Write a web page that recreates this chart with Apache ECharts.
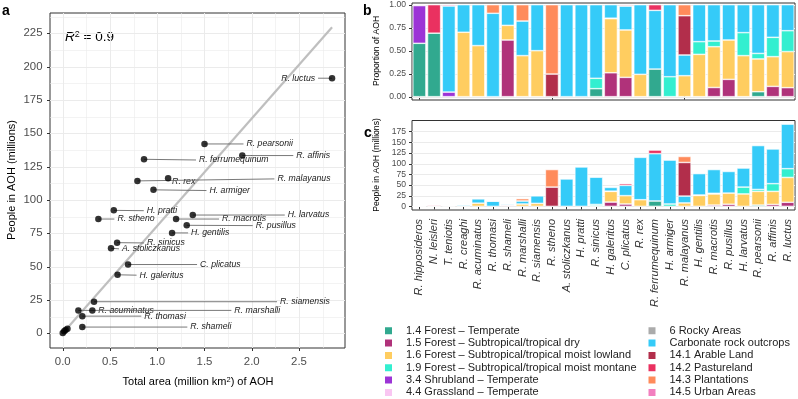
<!DOCTYPE html>
<html><head><meta charset="utf-8">
<script src="https://cdn.jsdelivr.net/npm/echarts@6/dist/echarts.min.js"></script>
<style>html,body{margin:0;padding:0;background:#fff}#c{width:798px;height:399px}</style>
</head><body><div id="c"></div>
<script>
// ---------- data ----------
const species = ['R. hipposideros','N. leisleri','T. teniotis','R. creaghi','R. acuminatus','R. thomasi','R. shameli','R. marshalli','R. siamensis','R. stheno','A. stoliczkanus','H. pratti','R. sinicus','H. galeritus','C. plicatus','R. rex','R. ferrumequinum','H. armiger','R. malayanus','H. gentilis','R. macrotis','R. pusillus','H. larvatus','R. pearsonii','R. affinis','R. luctus'];
// panel a: total AOH area (million km2) and people in AOH (millions)
const areaMkm2 = [0.0, 0.03, 0.015, 0.05, 0.313, 0.207, 0.207, 0.165, 0.331, 0.377, 0.511, 0.54, 0.575, 0.58, 0.691, 1.115, 0.86, 0.96, 0.79, 1.157, 1.199, 1.312, 1.376, 1.50, 1.90, 2.85];
const peopleM = [0.3, 2.5, 1.5, 3.5, 17.2, 12.9, 4.7, 17.2, 23.7, 85.7, 63.8, 92.2, 68, 43.9, 51.6, 116.3, 130.5, 107.6, 114.3, 75.3, 85.7, 81, 88.7, 142, 133.3, 191.3];
const fitLineX = [0, 2.85];
const fitLineY = [0, 229.5];
const rSquaredText = '0.9';
const aXTicks = [0, 0.5, 1, 1.5, 2, 2.5];
const aXMinor = [0.25, 0.75, 1.25, 1.75, 2.25, 2.75];
const aYTicks = [0, 25, 50, 75, 100, 125, 150, 175, 200, 225];
const aYMinor = [12.5, 37.5, 62.5, 87.5, 112.5, 137.5, 162.5, 187.5, 212.5, 237.5];
const bYTicks = [0, 0.25, 0.5, 0.75, 1];
const cYTicks = [0, 25, 50, 75, 100, 125, 150, 175];

const habitats = ['1.4 Forest – Temperate','1.5 Forest – Subtropical/tropical dry','1.6 Forest – Subtropical/tropical moist lowland','1.9 Forest – Subtropical/tropical moist montane','3.4 Shrubland – Temperate','4.4 Grassland – Temperate','6 Rocky Areas','Carbonate rock outcrops','14.1 Arable Land','14.2 Pastureland','14.3 Plantations','14.5 Urban Areas'];
const habitatColors = ['#31A98F','#B0327A','#FFCD60','#33EFD0','#9C34D6','#F9C6F2','#ABABAB','#35CBF8','#B22E4B','#EA3160','#FF8B5B','#F27FBF'];

// panel b: proportion of AOH by habitat
const propF14 = [0.58,0.69,0,0,0,0,0,0,0,0,0,0,0.087,0,0,0,0.30,0,0,0,0,0,0,0.054,0,0];
const propF15 = [0,0,0,0,0,0,0.616,0,0,0,0,0,0,0.26,0.21,0,0,0,0,0,0.10,0.188,0,0,0.112,0.098];
const propF16 = [0,0,0,0.70,0.555,0,0.159,0.446,0.50,0,0,0,0,0.588,0.515,0.243,0,0,0.228,0.46,0.443,0.428,0.446,0.356,0.323,0.392];
const propF19 = [0,0,0,0,0,0,0,0,0,0,0,0,0.113,0.005,0,0,0,0.217,0,0.138,0.062,0,0.25,0.06,0.21,0.227];
const propS34 = [0.41,0,0.05,0,0,0,0,0,0,0,0,0,0,0,0,0,0,0,0,0,0,0,0,0,0,0];
const propG44 = [0.01,0,0,0,0,0,0,0,0,0,0,0,0,0,0,0,0,0,0,0,0,0,0,0,0,0];
const propR6 = [0,0,0,0,0,0,0,0,0,0,0,0,0,0,0,0,0,0,0,0,0,0,0,0,0,0];
const propCarb = [0,0,0.935,0.30,0.445,0.906,0.225,0.376,0.50,0,1.0,1.0,0.80,0.147,0.26,0.757,0.638,0.783,0.225,0.402,0.395,0.384,0.304,0.53,0.355,0.283];
const propA141 = [0,0,0,0,0,0,0,0,0,0.246,0,0,0,0,0.005,0,0,0,0.427,0,0,0,0,0,0,0];
const propP142 = [0,0.31,0,0,0,0,0,0,0,0,0,0,0,0,0.01,0,0.062,0,0,0,0,0,0,0,0,0];
const propP143 = [0,0,0,0,0,0.094,0,0.178,0,0.754,0,0,0,0,0,0,0,0,0.12,0,0,0,0,0,0,0];
const propU145 = [0,0,0.015,0,0,0,0,0,0,0,0,0,0,0,0,0,0,0,0,0,0,0,0,0,0,0];

// panel c: people in AOH (millions) by habitat
const pplF14 = [0.2,0.5,0,0,0,0,0,0,0,0,0,0,1.5,0,0,0,12.5,0,0,0,0,0,0,3,0,0];
const pplF15 = [0,0,0,0,0,0,2.5,0,0,0,0,0,0,10,5.5,0,0,0,0,0,3,5,0,0,4.5,9.5];
const pplF16 = [0,0,0,1,7.5,0,0.3,5.5,7,0,0,0,0,25,19.5,15.5,0,0,8,25.5,26,26,29,32,30.5,58];
const pplF19 = [0,0,0,0,0,0,0,0,0,0,0,0,3,0.5,0,0,0,5.5,0,1,1.5,0,16,4.5,18,20.5];
const pplS34 = [0.3,0,0,0,0,0,0,0,0,0,0,0,0,0,0,0,0,0,0,0,0,0,0,0,0,0];
const pplG44 = [0,0,0,0,0,0,0,0,0,0,0,0,0,0,0,0,0,0,0,0,0,0,0,0,0,0];
const pplR6 = [0,0,0,0,0,0,0,0,0,0,0,0,0,0,0,0,0,0,0,0,0,0,0,0,0,0];
const pplCarb = [0,0,1,2.5,10,12,2.2,7,17.5,0,64,92,63.5,8.8,24,99,110.5,102.5,16,50,55.5,50.5,44.5,102.5,81,104];
const pplA141 = [0,0,0,0,0,0,0,0,0,45,0,0,0,0,0,0,0,0,78.5,0,0,0,0,0,0,0];
const pplP142 = [0,2,0,0,0,0,0,0,0,0,0,0,0,0,4,0,8.5,0,0,0,0,0,0,0,0,0];
const pplP143 = [0,0,0,0,0,1,0,5.5,0,41,0,0,0,0,0,0,0,0,14,0,0,0,0,0,0,0];
const pplU145 = [0,0,0.5,0,0,0,0,0,0,0,0,0,0,0,0,0,0,0,0,0,0,0,0,0,0,0];

const propSeries = [propF14,propF15,propF16,propF19,propS34,propG44,propR6,propCarb,propA141,propP142,propP143,propU145];
const pplSeries = [pplF14,pplF15,pplF16,pplF19,pplS34,pplG44,pplR6,pplCarb,pplA141,pplP142,pplP143,pplU145];

// ---------- layout (label offsets in px, not data) ----------
const labelDx = [null,null,null,null,6,62,108,156,186,19,11,33,30,22,72,4,55,56,140,19,46,69,95,42,54,-17];
const labelDy = [0,0,0,0,0,0,0,0,0,0,0.6,0.3,0.3,0.4,0,3.4,0.7,0.7,-2,0,0,0.3,0,0,0,0];

const FF = "'Liberation Sans', Arial, Helvetica, sans-serif";
const GRIDC = '#ebebeb';

function ln(x1,y1,x2,y2,c,w){return {type:'line',shape:{x1,y1,x2,y2},style:{stroke:c,lineWidth:w}};}
function tx(x,y,t,align,va,fs,fill){return {type:'text',x,y,style:{text:t,align,verticalAlign:va,fontSize:fs,fontFamily:FF,fill:fill||'#4d4d4d'}};}

function tickSeries(gi, dir, majors, minors, fmt, o){
  const raw = majors.map(v=>[v,1]).concat(minors.map(v=>[v,0]));
  return {
    type:'custom', xAxisIndex:gi, yAxisIndex:gi, z:1, silent:true, clip:false,
    data: raw.map(d => dir==='x' ? [d[0], o.other, d[1]] : [o.other, d[0], d[1]]),
    renderItem: function(params, api){
      const cs = params.coordSys;
      const major = api.value(2) === 1;
      const p = api.coord([api.value(0), api.value(1)]);
      const ch = [];
      if (dir === 'x'){
        const x = Math.round(p[0]) + 0.5, b = cs.y + cs.height;
        if (o.grid) ch.push(ln(x, cs.y, x, b, GRIDC, major?1:0.6));
        if (major){
          ch.push(ln(x, b, x, b+3, '#333', 1));
          ch.push(tx(p[0], b+o.gap, fmt(api.value(0)), 'center', 'middle', o.fs));
        }
      } else {
        const y = Math.round(p[1]) + 0.5, l = cs.x;
        if (o.grid) ch.push(ln(l, y, l+cs.width, y, GRIDC, major?1:0.6));
        if (major){
          ch.push(ln(l-3, y, l, y, '#333', 1));
          ch.push(tx(l-o.gap, p[1], fmt(api.value(1)), 'right', 'middle', o.fs));
        }
      }
      return {type:'group', children:ch};
    }
  };
}

const series = [];
series.push(tickSeries(0,'x',aXTicks,aXMinor,v=>v.toFixed(1),{other:0,grid:true,gap:14,fs:11.4}));
series.push(tickSeries(0,'y',aYTicks,aYMinor,v=>String(v),{other:0,grid:true,gap:7.5,fs:11.4}));
series.push({type:'line', xAxisIndex:0, yAxisIndex:0, z:2, silent:true, symbol:'none',
  data: fitLineX.map((x,i)=>[x, fitLineY[i]]), lineStyle:{color:'#bfbfbf', width:2.2}});
series.push({type:'custom', xAxisIndex:0, yAxisIndex:0, z:3, silent:true, clip:false,
  data: species.map((s,i)=>[areaMkm2[i], peopleM[i], i]),
  renderItem: function(params, api){
    const i = api.value(2);
    const dx = labelDx[i];
    if (dx == null) return {type:'group', children:[]};
    const p = api.coord([api.value(0), api.value(1)]);
    const x = p[0]+dx, y = p[1]+labelDy[i];
    const ch = [];
    if (Math.abs(dx) > 10){
      const ex = dx>0 ? x-3 : x+3;
      ch.push(ln(p[0], p[1], ex, y, '#6a6a6a', 0.9));
    }
    ch.push({type:'text', x:x, y:y, style:{text:species[i], align:dx>0?'left':'right', verticalAlign:'middle', fontSize:8.7, fontStyle:'italic', fontFamily:FF, fill:'#1a1a1a'}});
    return {type:'group', children:ch};
  }});
series.push({type:'scatter', xAxisIndex:0, yAxisIndex:0, z:5, silent:true, symbolSize:6.5,
  data: species.map((s,i)=>[areaMkm2[i], peopleM[i]]), itemStyle:{color:'#000'}});

series.push(tickSeries(1,'y',bYTicks,[],v=>v.toFixed(2),{other:0,grid:true,gap:6,fs:8.6}));
series.push(tickSeries(2,'y',cYTicks,[],v=>String(v),{other:0,grid:true,gap:6,fs:8.6}));

habitats.forEach((h,k)=>{
  series.push({type:'bar', name:h, stack:'b', xAxisIndex:1, yAxisIndex:1, z:2, barWidth:'89%',
    data: propSeries[k].map(v=>v>0?v:'-'),
    itemStyle:{color:habitatColors[k], borderColor:'#fff', borderWidth:0.6}});
});
habitats.forEach((h,k)=>{
  series.push({type:'bar', name:h, stack:'c', xAxisIndex:2, yAxisIndex:2, z:2, barWidth:'89%',
    data: pplSeries[k].map(v=>v>0?v:'-'),
    itemStyle:{color:habitatColors[k], borderColor:'#fff', borderWidth:0.6}});
});

const catAxis = (gi, showLabels) => ({gridIndex:gi, type:'category', data:species,
  axisLine:{show:false}, splitLine:{show:false},
  axisTick:{show:true, alignWithLabel:true, length:3, lineStyle:{color:'#333', width:1}},
  axisLabel: showLabels ? {show:true, interval:0, rotate:90, fontStyle:'italic', fontSize:11, fontFamily:FF, color:'#333', margin:9} : {show:false}});

const legendBase = {orient:'vertical', icon:'rect', itemWidth:9, itemHeight:9, itemGap:0.35, padding:0, selectedMode:false,
  textStyle:{fontSize:11, fontFamily:FF, color:'#222', lineHeight:12, padding:[0,0,0,8]}};

const option = {
  animation:false,
  backgroundColor:'#fff',
  grid:[
    {left:50, top:13, width:295, height:335, show:true, borderColor:'#333', borderWidth:1, outerBoundsMode:'none', containLabel:false},
    {left:412, top:3, width:383, height:97, show:true, borderColor:'#333', borderWidth:1, outerBoundsMode:'none', containLabel:false},
    {left:412, top:120.5, width:383, height:89.5, show:true, borderColor:'#333', borderWidth:1, outerBoundsMode:'none', containLabel:false}
  ],
  xAxis:[
    {gridIndex:0, type:'value', min:-0.135, max:2.987, show:false},
    catAxis(1,false),
    catAxis(2,true)
  ],
  yAxis:[
    {gridIndex:0, type:'value', min:-11, max:240.2, show:false},
    {gridIndex:1, type:'value', min:-0.036, max:1.018, show:false},
    {gridIndex:2, type:'value', min:-8.5, max:200.5, show:false}
  ],
  legend:[
    Object.assign({}, legendBase, {data:habitats.slice(0,6), left:383, top:324.7}),
    Object.assign({}, legendBase, {data:habitats.slice(6), left:646.5, top:324.7})
  ],
  graphic:[
    {type:'text', x:2, y:11, style:{text:'a', fontSize:14, fontWeight:'bold', fontFamily:FF, fill:'#000', verticalAlign:'middle'}},
    {type:'text', x:363, y:11, style:{text:'b', fontSize:14, fontWeight:'bold', fontFamily:FF, fill:'#000', verticalAlign:'middle'}},
    {type:'text', x:364, y:133, style:{text:'c', fontSize:14, fontWeight:'bold', fontFamily:FF, fill:'#000', verticalAlign:'middle'}},
    {type:'text', x:65, y:37, style:{text:'{i|R}{s|2}{n| = '+rSquaredText+'}', verticalAlign:'middle', fontFamily:FF, fontSize:13.5, fill:'#000',
      rich:{i:{fontStyle:'italic', fontSize:13.5, fontFamily:FF, fill:'#000'}, s:{fontSize:9, fontFamily:FF, fill:'#000', verticalAlign:'top'}, n:{fontSize:13.5, fontFamily:FF, fill:'#000'}}}},
    {type:'text', x:198, y:381.5, style:{text:'Total area (million km{s|2}) of AOH', align:'center', verticalAlign:'middle', fontFamily:FF, fontSize:11, fill:'#000',
      rich:{s:{fontSize:7.5, fontFamily:FF, fill:'#000', verticalAlign:'top'}}}},
    {type:'text', x:12, y:180, rotation:Math.PI/2, style:{text:'People in AOH (millions)', align:'center', verticalAlign:'middle', fontFamily:FF, fontSize:11, fill:'#000'}},
    {type:'text', x:377, y:51, rotation:Math.PI/2, style:{text:'Proportion of AOH', align:'center', verticalAlign:'middle', fontFamily:FF, fontSize:8.6, fill:'#000'}},
    {type:'text', x:377, y:165, rotation:Math.PI/2, style:{text:'People in AOH (millions)', align:'center', verticalAlign:'middle', fontFamily:FF, fontSize:8.6, fill:'#000'}}
  ],
  series: series
};
const chart = echarts.init(document.getElementById('c'), null, {renderer:'canvas'});
chart.setOption(option);
</script></body></html>
